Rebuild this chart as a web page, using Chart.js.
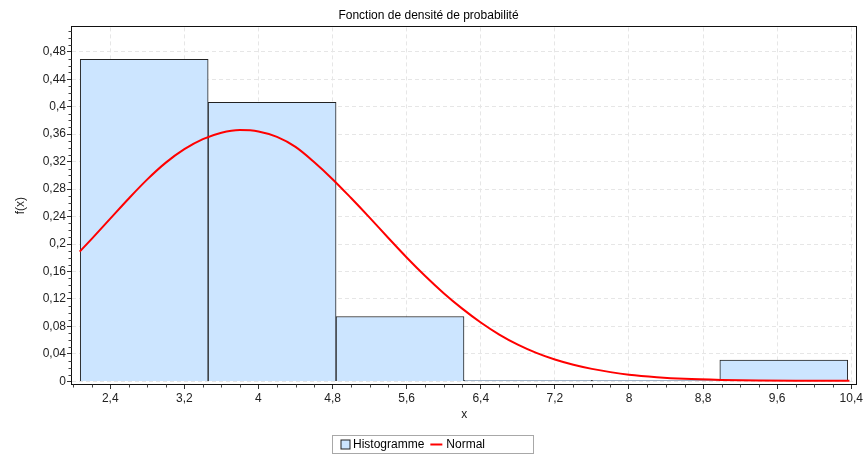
<!DOCTYPE html>
<html><head><meta charset="utf-8">
<script src="https://cdn.jsdelivr.net/npm/chart.js@4.4.0/dist/chart.umd.min.js"></script>
<style>html,body{margin:0;padding:0;background:#fff;}#wrap{width:865px;height:455px;position:relative;}</style>
</head><body><div id="wrap"><canvas id="c" width="865" height="455"></canvas></div>
<script>
const chartTitle = 'Fonction de densité de probabilité';
const xTitle = 'x';
const yTitle = 'f(x)';
const seriesLabels = ['Histogramme', 'Normal'];
const binEdges = [2.076, 3.457, 4.838, 6.219, 7.600, 8.981, 10.362];
const histValues = [0.469, 0.4064, 0.0945, 0.0015, 0.0015, 0.0311];
const normalX = [2.07, 2.2, 2.4, 2.6, 2.8, 3.0, 3.2, 3.4, 3.6, 3.8, 4.0, 4.2, 4.4, 4.6, 4.8, 5.0, 5.2, 5.4, 5.6, 5.8, 6.0, 6.2, 6.4, 6.6, 6.8, 7.0, 7.2, 7.4, 7.6, 7.8, 8.0, 8.3, 8.6, 9.0, 9.4, 9.8, 10.38];
const normalY = [0.189, 0.2076, 0.237, 0.2664, 0.2942, 0.3186, 0.3382, 0.3528, 0.3622, 0.366, 0.364, 0.356, 0.3415, 0.3195, 0.2945, 0.267, 0.2385, 0.2092, 0.1805, 0.1535, 0.1285, 0.106, 0.0858, 0.0682, 0.0535, 0.0415, 0.0318, 0.0242, 0.0182, 0.0135, 0.0098, 0.0062, 0.0038, 0.0022, 0.0014, 0.001, 0.0008];
const xTickValues = [2.4, 3.2, 4, 4.8, 5.6, 6.4, 7.2, 8, 8.8, 9.6, 10.4];
const yTickValues = [0, 0.04, 0.08, 0.12, 0.16, 0.2, 0.24, 0.28, 0.32, 0.36, 0.4, 0.44, 0.48];

const FONT = "'Liberation Sans', Arial, sans-serif";
const fmt = v => String(+Number(v).toFixed(2)).replace('.', ',');
const binCenters = binEdges.slice(0, -1).map((e, i) => (e + binEdges[i + 1]) / 2);

const framePlugin = {
  id: 'frameAndMinor',
  afterDatasetsDraw(chart) {
    const {ctx, chartArea: a, scales} = chart;
    ctx.save();
    ctx.strokeStyle = '#111';
    ctx.lineWidth = 1;
    const L = Math.round(a.left) - 0.5, T = Math.round(a.top) - 0.5;
    const R = Math.round(a.right) + 0.5, B = Math.round(a.bottom) + 0.5;
    ctx.strokeRect(L, T, R - L, B - T);
    ctx.strokeStyle = '#444';
    ctx.beginPath();
    const ys = scales.y;
    for (let k = 0; k <= 60; k++) {
      const v = k / 100;
      if (v > ys.max) break;
      if (k % 4 === 0) continue;
      const p = Math.round(ys.getPixelForValue(v)) + 0.5;
      ctx.moveTo(L - 3, p); ctx.lineTo(L, p);
    }
    const xs = scales.x;
    for (let k = Math.ceil(xs.min * 5); k / 5 <= xs.max; k++) {
      const v = k / 5;
      if (k % 4 === 0) continue;
      const p = Math.round(xs.getPixelForValue(v)) + 0.5;
      ctx.moveTo(p, B); ctx.lineTo(p, B + 3);
    }
    ctx.stroke();
    ctx.restore();
  }
};

const legendPlugin = {
  id: 'boxLegend',
  afterDraw(chart) {
    const {ctx} = chart;
    const ds = chart.data.datasets;
    ctx.save();
    ctx.font = '12px ' + FONT;
    const bw = 201, bh = 18;
    const bx = Math.floor(chart.width / 2 - bw / 2) + 0.5;
    const by = chart.height - 19.5;
    ctx.strokeStyle = '#a8a8a8';
    ctx.lineWidth = 1;
    ctx.strokeRect(bx, by, bw, bh);
    const cy = by + 9;
    ctx.fillStyle = ds[0].backgroundColor;
    ctx.fillRect(bx + 8.5, by + 4.5, 9, 9);
    ctx.strokeStyle = '#222';
    ctx.strokeRect(bx + 8.5, by + 4.5, 9, 9);
    ctx.fillStyle = '#000';
    ctx.textBaseline = 'middle';
    ctx.textAlign = 'left';
    let x = bx + 20.5;
    ctx.fillText(ds[0].label, x, cy);
    x += ctx.measureText(ds[0].label).width + 6;
    ctx.strokeStyle = ds[1].borderColor;
    ctx.lineWidth = 2;
    ctx.beginPath(); ctx.moveTo(x, cy); ctx.lineTo(x + 12, cy); ctx.stroke();
    x += 16;
    ctx.fillText(ds[1].label, x, cy);
    ctx.restore();
  }
};

new Chart(document.getElementById('c'), {
  type: 'bar',
  data: {
    datasets: [
      {
        type: 'bar',
        label: seriesLabels[0],
        data: binCenters.map((x, i) => ({x, y: histValues[i]})),
        backgroundColor: '#cce5ff',
        borderColor: '#222',
        borderWidth: 1,
        barThickness: 'flex',
        categoryPercentage: 1,
        barPercentage: 1,
        order: 2
      },
      {
        type: 'line',
        label: seriesLabels[1],
        data: normalX.map((x, i) => ({x, y: normalY[i]})),
        borderColor: '#ff0000',
        borderWidth: 2,
        pointRadius: 0,
        fill: false,
        cubicInterpolationMode: 'monotone',
        order: 1
      }
    ]
  },
  options: {
    responsive: false,
    animation: false,
    layout: {padding: {left: 0, right: 8, top: 0, bottom: 33}},
    plugins: {
      legend: {display: false},
      tooltip: {enabled: false},
      title: {
        display: true, text: chartTitle, color: '#000',
        font: {family: FONT, size: 12, weight: 'normal'},
        padding: {top: 8, bottom: 5}
      }
    },
    scales: {
      x: {
        type: 'linear', min: 1.987, max: 10.454, offset: false,
        afterBuildTicks: s => { s.ticks = xTickValues.map(v => ({value: v})); },
        afterFit: s => { s.height = 38; },
        grid: {color: '#e6e6e6', tickColor: '#333', tickLength: 5, offset: false},
        border: {display: false, dash: [4, 3]},
        ticks: {callback: v => fmt(v), color: '#222', font: {family: FONT, size: 12}, padding: 2, maxRotation: 0, autoSkip: false},
        title: {display: true, text: xTitle, color: '#222', font: {family: FONT, size: 12}, padding: {top: 0, bottom: 0}}
      },
      y: {
        type: 'linear', min: -0.0038, max: 0.5155,
        afterBuildTicks: s => { s.ticks = yTickValues.map(v => ({value: v})); },
        afterFit: s => { s.width = 72; },
        grid: {color: '#e6e6e6', tickColor: '#333', tickLength: 5},
        border: {display: false, dash: [4, 3]},
        ticks: {callback: v => fmt(v), color: '#222', font: {family: FONT, size: 12}, padding: 1, autoSkip: false},
        title: {display: true, text: yTitle, color: '#222', font: {family: FONT, size: 12}, padding: {top: 13, bottom: 0}}
      }
    }
  },
  plugins: [framePlugin, legendPlugin]
});
</script></body></html>
